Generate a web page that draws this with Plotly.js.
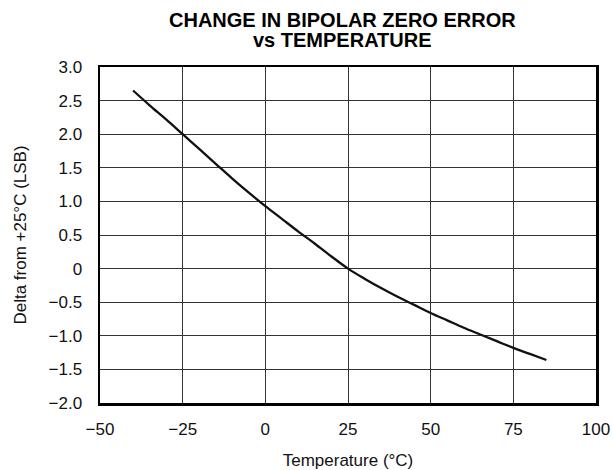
<!DOCTYPE html>
<html>
<head>
<meta charset="utf-8">
<script src="https://cdn.plot.ly/plotly-3.0.1.min.js"></script>
<style>html,body{margin:0;padding:0;background:#fff;}#chart{width:613px;height:470px;}</style>
</head>
<body>
<div id="chart"></div>
<script>
const temperature = [-40,-35,-30,-25,-20,-15,-10,-5,0,5,10,15,20,25,30,35,40,45,50,55,60,65,70,75,80,85];
const delta = [2.65,2.43,2.22,2.0,1.78,1.56,1.34,1.13,0.93,0.74,0.55,0.37,0.18,0.0,-0.15,-0.29,-0.42,-0.54,-0.66,-0.77,-0.88,-0.98,-1.08,-1.18,-1.27,-1.36];
const xTickVals = [-50,-25,0,25,50,75,100];
const xTickText = ["\u221250","\u221225","0","25","50","75","100"];
const yTickVals = [3,2.5,2,1.5,1,0.5,0,-0.5,-1,-1.5,-2];
const yTickText = ["3.0","2.5","2.0","1.5","1.0","0.5","0","\u22120.5","\u22121.0","\u22121.5","\u22122.0"];
const titleLines = ['CHANGE IN BIPOLAR ZERO ERROR', 'vs TEMPERATURE'];

const font = "Liberation Sans, Arial, Helvetica, sans-serif";
const titleAnn = titleLines.map((t, i) => ({
  text: '<b>' + t + '</b>', xref: 'paper', yref: 'paper', x: 0.488, y: 1, yshift: 67 - 19.5 - 20.5 * i,
  xanchor: 'center', yanchor: 'middle', showarrow: false, font: {family: font, size: 20, color: '#000'}
}));
Plotly.newPlot('chart', [{
  x: temperature, y: delta, type: 'scatter', mode: 'lines',
  line: {color: '#111', width: 2.3, shape: 'spline', smoothing: 1}, hoverinfo: 'skip'
}], {
  width: 613, height: 470,
  margin: {l: 100, r: 17, t: 67, b: 67},
  paper_bgcolor: '#fff', plot_bgcolor: '#fff',
  showlegend: false,
  font: {family: font, size: 17, color: '#111'},
  annotations: titleAnn,
  xaxis: {range: [-50, 100], tickvals: xTickVals, ticktext: xTickText, showgrid: true, gridcolor: '#333', gridwidth: 1,
    tickfont: {family: font, size: 17},
    zeroline: false, showline: true, linecolor: '#000', linewidth: 2.5, mirror: true, ticks: '', ticklabelstandoff: 9,
    title: {text: 'Temperature (\u00b0C)', standoff: 17, font: {family: font, size: 17}}},
  yaxis: {range: [-2, 3], tickvals: yTickVals, ticktext: yTickText, showgrid: true, gridcolor: '#333', gridwidth: 1,
    tickfont: {family: font, size: 17},
    zeroline: false, showline: true, linecolor: '#000', linewidth: 2.5, mirror: true, ticks: '', ticklabelstandoff: 12,
    title: {text: 'Delta from +25\u00b0C (LSB)', standoff: 18, font: {family: font, size: 17}}}
}, {staticPlot: true});
</script>
</body>
</html>
